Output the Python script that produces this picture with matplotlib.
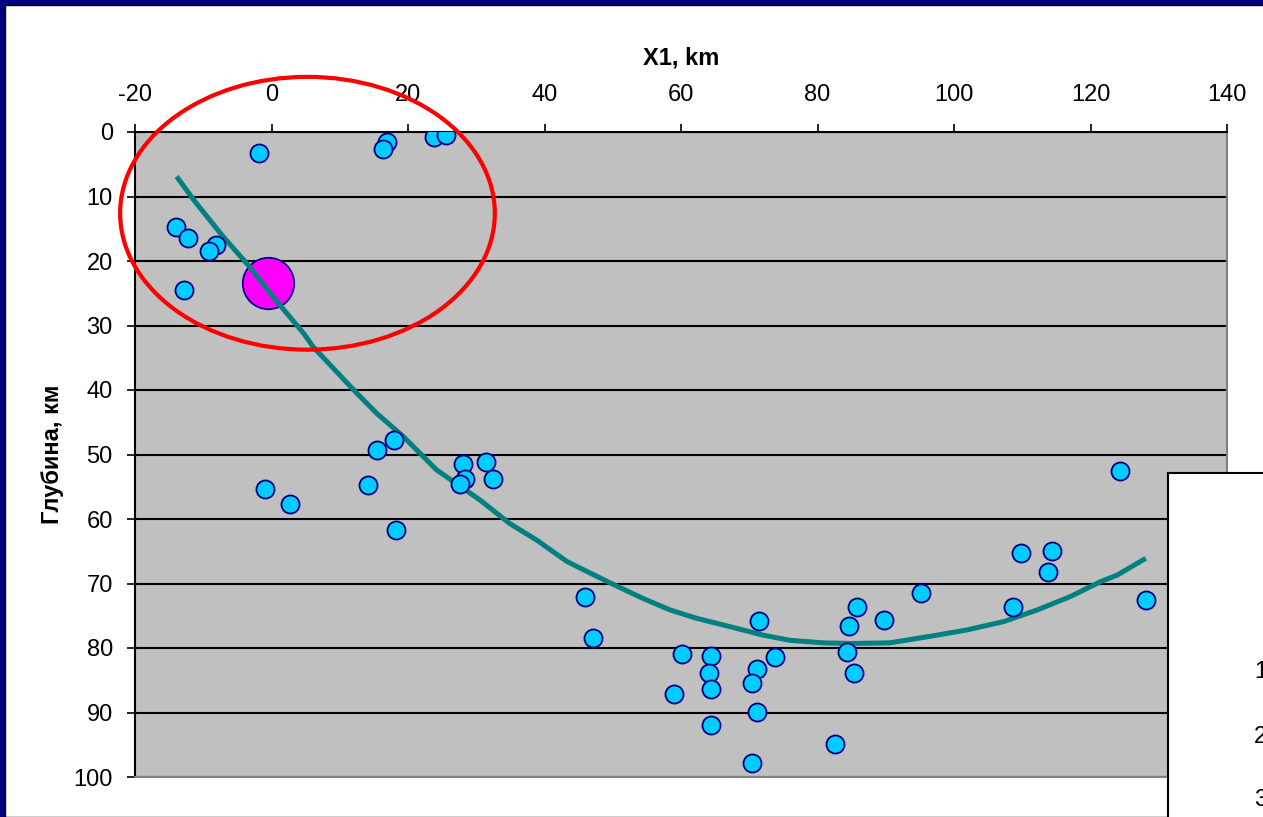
import matplotlib
matplotlib.use("Agg")
import matplotlib.pyplot as plt
from matplotlib.patches import Ellipse, Rectangle

plt.rcParams['font.family'] = ['Liberation Sans', 'DejaVu Sans']
plt.rcParams['axes.unicode_minus'] = False

# Earthquake hypocentres (X1, km ; depth, km)
quake_x = [-1.8, 16.9, 16.3, 23.8, 25.6, -14.0, -12.2, -8.1, -9.2, -12.8,
           -1.0, 2.7, 14.1, 15.5, 18.0, 18.3, 28.0, 28.3, 27.6, 31.4, 32.5,
           45.9, 47.1, 60.1, 64.4, 64.1, 64.4, 59.0, 64.4, 71.5, 71.2, 73.8,
           70.4, 71.2, 70.4, 82.6, 84.6, 85.8, 84.3, 85.4, 89.7, 95.1,
           108.6, 109.8, 114.4, 113.8, 124.3, 128.1]
quake_depth = [3.3, 1.6, 2.6, 0.8, 0.5, 14.7, 16.4, 17.5, 18.4, 24.5,
               55.3, 57.7, 54.7, 49.3, 47.8, 61.7, 51.4, 53.8, 54.5, 51.1, 53.8,
               72.1, 78.4, 80.9, 81.2, 83.9, 86.3, 87.2, 92.0, 75.8, 83.2, 81.4,
               85.4, 89.9, 97.9, 94.9, 76.6, 73.6, 80.6, 83.9, 75.7, 71.5,
               73.6, 65.3, 65.0, 68.2, 52.6, 72.6]

# Main event
main_x = [-0.5]
main_depth = [23.4]

# Slab surface curve
slab_x = [-13.9, -11.2, -7.1, -3.2, 0.8, 4.7, 6.1, 12.5, 15.4, 19.3, 24.2,
          30.6, 34.9, 38.9, 43.3, 49.6, 54.4, 58.4, 62.3, 67.2, 72.0, 75.9,
          80.8, 84.8, 90.6, 97.0, 101.9, 107.3, 112.2, 117.1, 121.5, 123.9, 128.1]
slab_depth = [6.9, 10.8, 16.2, 20.9, 26.3, 31.2, 33.3, 40.5, 43.6, 47.2, 52.4,
              57.1, 60.7, 63.3, 66.6, 69.9, 72.3, 74.1, 75.4, 76.7, 78.0, 78.8,
              79.2, 79.3, 79.2, 78.1, 77.2, 75.9, 74.1, 72.0, 69.7, 68.7, 66.1]

x_ticks = [-20, 0, 20, 40, 60, 80, 100, 120, 140]
y_ticks = [0, 10, 20, 30, 40, 50, 60, 70, 80, 90, 100]

W, H = 1263, 817
fig = plt.figure(figsize=(W / 100, H / 100), dpi=100)
fig.patch.set_facecolor('#000080')
fig.patches.append(Rectangle((5 / W, 0), 1, (H - 5) / H, transform=fig.transFigure,
                             facecolor='white', edgecolor='black', lw=1.0, zorder=-10))

ax = fig.add_axes([135 / W, 1 - 777 / H, (1227 - 135) / W, (777 - 132) / H])
ax.set_facecolor('#C0C0C0')
ax.set_xlim(-20, 140)
ax.set_ylim(100, 0)
ax.set_xticks(x_ticks)
ax.set_yticks(y_ticks)
ax.xaxis.tick_top()
ax.xaxis.set_label_position('top')
ax.tick_params(axis='both', direction='out', length=6, width=1.2, labelsize=17, colors='black')
ax.tick_params(axis='x', pad=13)
ax.tick_params(axis='y', pad=10)
ax.set_axisbelow(True)
ax.yaxis.grid(True, color='black', lw=1.5)
ax.xaxis.grid(False)
for s in ['top', 'left']:
    ax.spines[s].set_color('black')
    ax.spines[s].set_linewidth(1.5)
for s in ['right', 'bottom']:
    ax.spines[s].set_color('#808080')
    ax.spines[s].set_linewidth(1.5)

ax.set_xlabel('X1, km', fontsize=17, fontweight='bold', labelpad=14)
ax.set_ylabel('Глубина, км', fontsize=17, fontweight='bold', labelpad=7)

ax.plot(slab_x, slab_depth, color='#008080', lw=3.6, zorder=3,
        solid_joinstyle='round', solid_capstyle='butt')
ax.plot(quake_x, quake_depth, 'o', ms=13, mfc='#00CCFF', mec='#000080', mew=1.3,
        ls='none', zorder=4)
ax.plot(main_x, main_depth, 'o', ms=37, mfc='#FF00FF', mec='#000080', mew=1.3,
        ls='none', zorder=2.9)

ell = Ellipse((5.27, 12.6), 54.9, 42.3, facecolor='none', edgecolor='#FF0000',
              lw=3.0, clip_on=False, zorder=5)
ax.add_patch(ell)

# Legend box (partly cut off at the right edge, as in the source)
fig.patches.append(Rectangle((1168 / W, -0.1), 0.2, (H - 473) / H + 0.1,
                             transform=fig.transFigure, facecolor='white',
                             edgecolor='black', lw=1.5, zorder=10))
for lbl, yy in zip(['1', '2', '3'], [672, 737, 800]):
    fig.text(1254 / W, 1 - yy / H, lbl, fontsize=17, ha='left', va='center', zorder=11)

fig.savefig('out.png', dpi=100, facecolor=fig.get_facecolor())
